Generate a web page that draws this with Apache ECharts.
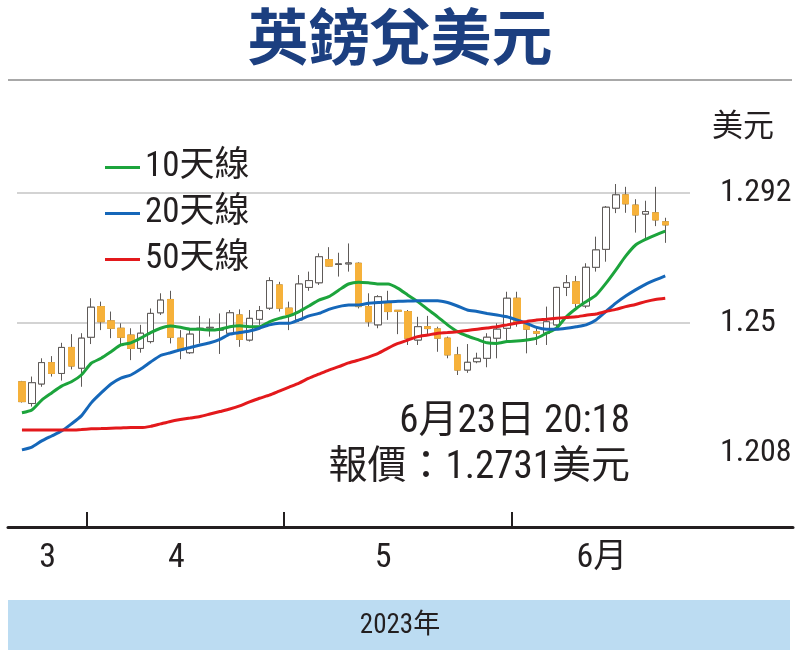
<!DOCTYPE html>
<html>
<head>
<meta charset="utf-8">
<script src="https://cdn.jsdelivr.net/npm/echarts@6/dist/echarts.min.js"></script>
<style>
html,body{margin:0;padding:0;background:#fff;}
#c{width:800px;height:655px;}
</style>
</head>
<body>
<div id="c"></div>
<script>
// ---- data ----
const dates = [
 '3/23','3/24','3/27','3/28','3/29','3/30','3/31',
 '4/3','4/4','4/5','4/6','4/7','4/10','4/11','4/12','4/13','4/14','4/17','4/18','4/19','4/20','4/21','4/24','4/25','4/26','4/27','4/28',
 '5/1','5/2','5/3','5/4','5/5','5/8','5/9','5/10','5/11','5/12','5/15','5/16','5/17','5/18','5/19','5/22','5/23','5/24','5/25','5/26','5/29','5/30','5/31',
 '6/1','6/2','6/5','6/6','6/7','6/8','6/9','6/12','6/13','6/14','6/15','6/16','6/19','6/20','6/21','6/22',
 '6/23','6/26'
];
// [open, close, low, high]
const candles = [
 [1.2310,1.2246,1.2243,1.2313],[1.2240,1.2307,1.2230,1.2327],[1.2303,1.2372,1.2294,1.2386],[1.2372,1.2337,1.2327,1.2393],
 [1.2337,1.2421,1.2314,1.2436],[1.2421,1.2361,1.2350,1.2464],[1.2354,1.2451,1.2294,1.2467],[1.2454,1.2551,1.2432,1.2580],
 [1.2553,1.2504,1.2477,1.2569],[1.2507,1.2483,1.2451,1.2537],[1.2483,1.2454,1.2429,1.2499],[1.2461,1.2418,1.2380,1.2483],
 [1.2418,1.2467,1.2404,1.2494],[1.2440,1.2531,1.2434,1.2547],[1.2533,1.2574,1.2526,1.2596],[1.2576,1.2454,1.2434,1.2604],
 [1.2451,1.2413,1.2383,1.2477],[1.2404,1.2464,1.2400,1.2477],[1.2480,1.2483,1.2434,1.2523],[1.2484,1.2486,1.2456,1.2515],
 [1.2477,1.2480,1.2400,1.2531],[1.2467,1.2533,1.2461,1.2542],[1.2526,1.2447,1.2423,1.2544],[1.2445,1.2515,1.2440,1.2542],
 [1.2512,1.2540,1.2494,1.2555],[1.2548,1.2637,1.2542,1.2648],[1.2623,1.2548,1.2537,1.2633],[1.2548,1.2526,1.2477,1.2569],
 [1.2510,1.2626,1.2504,1.2655],[1.2615,1.2637,1.2604,1.2666],[1.2630,1.2714,1.2623,1.2725],[1.2705,1.2684,1.2682,1.2745],
 [1.2689,1.2691,1.2650,1.2727],[1.2691,1.2694,1.2666,1.2757],[1.2693,1.2553,1.2547,1.2696],[1.2553,1.2504,1.2488,1.2596],
 [1.2494,1.2585,1.2483,1.2590],[1.2566,1.2537,1.2510,1.2604],[1.2541,1.2538,1.2464,1.2542],[1.2537,1.2451,1.2429,1.2542],
 [1.2445,1.2488,1.2429,1.2520],[1.2488,1.2482,1.2464,1.2523],[1.2481,1.2451,1.2407,1.2488],[1.2451,1.2397,1.2386,1.2456],
 [1.2397,1.2348,1.2332,1.2423],[1.2348,1.2373,1.2339,1.2432],[1.2375,1.2386,1.2370,1.2404],[1.2386,1.2454,1.2357,1.2467],
 [1.2451,1.2480,1.2386,1.2499],[1.2483,1.2580,1.2445,1.2601],[1.2580,1.2504,1.2488,1.2601],[1.2494,1.2480,1.2402,1.2504],
 [1.2472,1.2467,1.2429,1.2488],[1.2467,1.2504,1.2429,1.2553],[1.2494,1.2615,1.2488,1.2617],[1.2615,1.2630,1.2587,1.2655],
 [1.2633,1.2563,1.2551,1.2652],[1.2555,1.2680,1.2548,1.2693],[1.2680,1.2736,1.2666,1.2779],[1.2738,1.2874,1.2698,1.2878],
 [1.2871,1.2914,1.2855,1.2949],[1.2914,1.2885,1.2856,1.2940],[1.2881,1.2849,1.2792,1.2900],[1.2852,1.2860,1.2768,1.2895],
 [1.2856,1.2833,1.2813,1.2940],[1.2827,1.2817,1.2759,1.2840]
];
const ma10 = [1.2210,1.2219,1.2251,1.2274,1.2296,1.2310,1.2332,1.2370,1.2386,1.2407,1.2429,1.2436,1.2451,1.2469,1.2483,1.2490,1.2486,1.2480,1.2480,1.2477,1.2480,1.2488,1.2491,1.2488,1.2488,1.2504,1.2515,1.2523,1.2537,1.2555,1.2574,1.2585,1.2606,1.2626,1.2632,1.2630,1.2626,1.2626,1.2612,1.2590,1.2569,1.2544,1.2520,1.2494,1.2472,1.2458,1.2447,1.2436,1.2434,1.2440,1.2442,1.2445,1.2451,1.2467,1.2483,1.2520,1.2547,1.2569,1.2590,1.2628,1.2671,1.2716,1.2752,1.2770,1.2784,1.2797];
const ma20 = [1.2090,1.2099,1.2119,1.2135,1.2151,1.2174,1.2200,1.2242,1.2274,1.2303,1.2322,1.2332,1.2351,1.2374,1.2395,1.2404,1.2413,1.2421,1.2429,1.2436,1.2447,1.2464,1.2469,1.2474,1.2483,1.2494,1.2499,1.2499,1.2510,1.2523,1.2531,1.2544,1.2553,1.2558,1.2558,1.2564,1.2566,1.2569,1.2570,1.2571,1.2572,1.2572,1.2572,1.2566,1.2555,1.2542,1.2537,1.2531,1.2526,1.2520,1.2510,1.2499,1.2486,1.2480,1.2480,1.2483,1.2488,1.2494,1.2510,1.2537,1.2564,1.2587,1.2607,1.2625,1.2639,1.2652];
const ma50 = [1.2154,1.2154,1.2154,1.2154,1.2154,1.2154,1.2156,1.2158,1.2159,1.2160,1.2161,1.2162,1.2162,1.2166,1.2174,1.2182,1.2188,1.2193,1.2198,1.2206,1.2214,1.2222,1.2232,1.2245,1.2257,1.2267,1.2280,1.2293,1.2306,1.2322,1.2335,1.2348,1.2359,1.2371,1.2380,1.2390,1.2402,1.2419,1.2434,1.2445,1.2456,1.2461,1.2467,1.2469,1.2472,1.2476,1.2480,1.2484,1.2488,1.2494,1.2500,1.2505,1.2510,1.2512,1.2515,1.2518,1.2520,1.2525,1.2529,1.2537,1.2544,1.2553,1.2560,1.2569,1.2576,1.2580];
const seriesNames = ['10天線','20天線','50天線'];
const yTicks = [1.208, 1.25, 1.292];
const monthLabels = ['3','4','5','6月'];
const monthStartIdx = [7, 27, 50];   // first trading day of Apr, May, Jun
const quoteTime = '6月23日 20:18';
const quoteText = '報價：1.2731美元';
const yearText = '2023年';
const unitText = '美元';
const titleText = '英鎊兌美元';

// ---- chart ----
const COND = "'Roboto Condensed','Noto Sans CJK TC',sans-serif";
const CJK = "'Noto Sans CJK TC',sans-serif";
const INK = '#231f20';
const chart = echarts.init(document.getElementById('c'), null, {renderer:'canvas'});
const labelPos = [3.1, 16.1, 37.0, 59.1];
const bodies = candles.map(d => [d[0], d[1], Math.min(d[0], d[1]), Math.max(d[0], d[1])]);
const nearest = (arr, v) => { let b = 0; arr.forEach((p, i) => { if (Math.abs(p - v) < Math.abs(arr[b] - v)) b = i; }); return b; };

chart.setOption({
  animation: false,
  backgroundColor: '#fff',
  grid: [
    {left: 17, right: 110, top: 193, height: 260, outerBoundsMode: 'none', containLabel: false},
    {left: 8, right: 7, top: 526, height: 1, outerBoundsMode: 'none', containLabel: false}
  ],
  legend: {
    orient: 'vertical', left: 100, top: 145,
    data: seriesNames,
    icon: 'rect', itemWidth: 35, itemHeight: 3, itemGap: 11,
    textStyle: {fontSize: 35, lineHeight: 34, fontFamily: COND, color: INK}
  },
  xAxis: [
    {type: 'category', gridIndex: 0, data: dates, show: false, boundaryGap: true},
    {type: 'value', gridIndex: 0, min: 0, max: dates.length, position: 'bottom', offset: 74,
     axisLine: {show: false}, splitLine: {show: false},
     axisTick: {show: true, inside: true, length: 15, customValues: monthStartIdx, lineStyle: {color: INK, width: 2}},
     axisLabel: {show: true, customValues: labelPos, margin: 15,
       formatter: v => monthLabels[nearest(labelPos, v)],
       fontSize: 34, fontFamily: COND, color: INK}},
    {type: 'value', gridIndex: 1, min: 0, max: 1, axisLine: {show: true, lineStyle: {color: INK, width: 3}},
     axisTick: {show: false}, axisLabel: {show: false}, splitLine: {show: false}}
  ],
  yAxis: [
    {type: 'value', gridIndex: 0, position: 'right', min: yTicks[0], max: yTicks[2], interval: yTicks[1] - yTicks[0],
     axisLine: {show: false}, axisTick: {show: false},
     axisLabel: {margin: 30, fontSize: 32, fontFamily: COND, color: INK,
       formatter: v => String(yTicks[nearest(yTicks, v)])},
     splitLine: {show: true, showMinLine: false, lineStyle: {color: '#c4c4c4', width: 1.5}}},
    {type: 'value', gridIndex: 1, show: false}
  ],
  series: [
    {type: 'candlestick', xAxisIndex: 0, yAxisIndex: 0, data: candles, barWidth: 7, clip: false,
     itemStyle: {color: '#ffffff', color0: '#f6b13a', borderColor: '#5e5a58', borderColor0: '#5e5a58', borderWidth: 1}},
    {type: 'candlestick', xAxisIndex: 0, yAxisIndex: 0, data: bodies, barWidth: 7, clip: false,
     itemStyle: {color: '#ffffff', color0: '#f6b13a', borderColor: '#5e5a58', borderColor0: '#f6b13a', borderWidth: 1}},
    {name: seriesNames[0], type: 'line', data: ma10, symbol: 'none', smooth: 0.2, lineStyle: {color: '#1ca43c', width: 3}, itemStyle: {color: '#1ca43c'}},
    {name: seriesNames[1], type: 'line', data: ma20, symbol: 'none', smooth: 0.2, lineStyle: {color: '#1567b9', width: 3}, itemStyle: {color: '#1567b9'}},
    {name: seriesNames[2], type: 'line', data: ma50, symbol: 'none', smooth: 0.2, lineStyle: {color: '#e3191c', width: 3}, itemStyle: {color: '#e3191c'}}
  ],
  graphic: [
    {type: 'text', style: {text: titleText, x: 400, y: 37, align: 'center', verticalAlign: 'middle',
      fontSize: 61, fontWeight: 'bold', fontFamily: CJK, fill: '#1c3f80'}},
    {type: 'line', shape: {x1: 8, y1: 80, x2: 792, y2: 80}, style: {stroke: '#a8a8a8', lineWidth: 2}},
    {type: 'text', style: {text: unitText, x: 712, y: 124, verticalAlign: 'middle',
      fontSize: 31, fontFamily: CJK, fill: INK}},
    {type: 'text', style: {text: quoteTime, x: 630, y: 422, align: 'right', verticalAlign: 'middle',
      fontSize: 39, fontFamily: COND, fill: INK}},
    {type: 'text', style: {text: quoteText, x: 630, y: 468, align: 'right', verticalAlign: 'middle',
      fontSize: 39, fontFamily: COND, fill: INK}},
    {type: 'rect', shape: {x: 8, y: 600, width: 782, height: 50}, style: {fill: '#bcdcf2'}},
    {type: 'text', style: {text: yearText, x: 400, y: 626, align: 'center', verticalAlign: 'middle',
      fontSize: 27, fontFamily: COND, fill: INK}}
  ]
});
</script>
</body>
</html>
